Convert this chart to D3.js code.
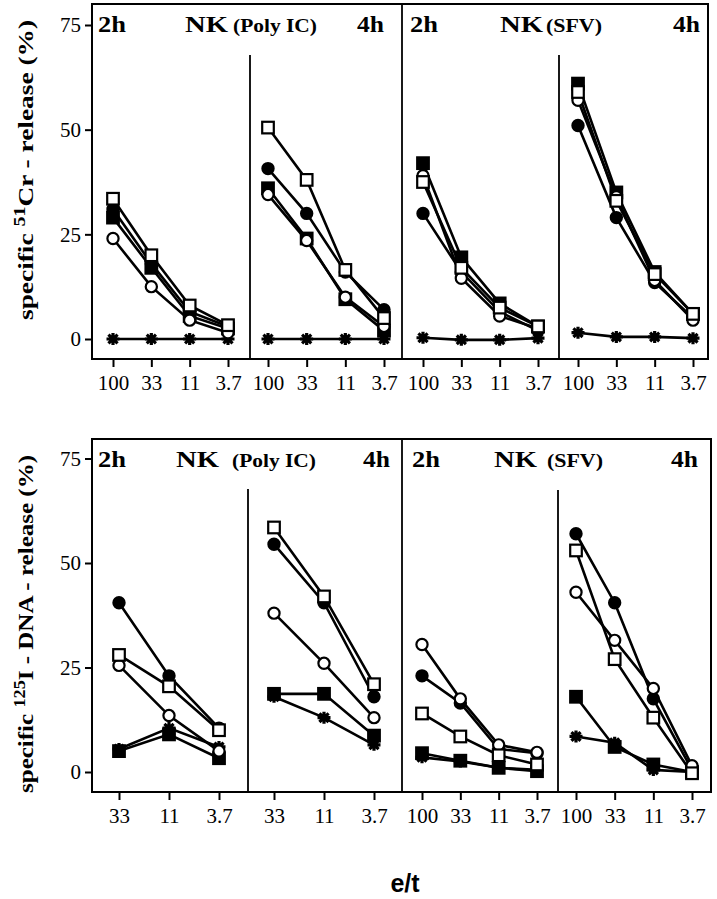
<!DOCTYPE html>
<html><head><meta charset="utf-8">
<script src="https://cdn.jsdelivr.net/npm/d3@7"></script>
<style>body{margin:0;background:#fff}svg{display:block}</style>
</head><body>
<svg id="c" width="717" height="899"></svg>
<script>
// ---- data ----
const etFull = ["100","33","11","3.7"];
const etPolyDNA = ["33","11","3.7"];
const yTicks = [0,25,50,75];
const seriesKinds = ["filledCircle","openCircle","filledSquare","openSquare","star"];
// values per panel; rows follow seriesKinds
const crPoly2h = [[31,18,6.5,3],[24,12.5,4.5,1.5],[29,17,5.5,2.5],[33.5,20,8,3.3],[0,0,0,0]];
const crPoly4h = [[40.7,30,16,7],[34.5,23.5,10,3],[36,24,9.5,2],[50.5,38,16.5,5],[0,0,0,0]];
const crSfv2h  = [[30,16,6.5,2],[39,14.5,5.5,2.5],[42,19.5,8.5,3],[37.5,17,7.5,3],[0.3,-0.2,-0.2,0.2]];
const crSfv4h  = [[51,29,13.5,5],[57,34,14,4.5],[61,35,16,6],[59,33,15.5,6],[1.5,0.5,0.5,0.2]];
const dnaPoly2h = [[40.5,23,10.5],[25.5,13.5,5],[5,9,3.3],[28,20.5,10],[5.5,10.5,6]];
const dnaPoly4h = [[54.5,40.5,18],[38,26,13],[18.7,18.7,8.7],[58.5,42,21],[18,13,6.5]];
const dnaSfv2h  = [[23,16.5,5.5,4.5],[30.5,17.5,6.5,4.7],[4.5,2.7,1,0.2],[14,8.5,4,1.8],[3.5,2.5,1,0.5]];
const dnaSfv4h  = [[57,40.5,17.5,0.5],[43,31.5,20,1.5],[18,6,1.8,0],[53,27,13,-0.3],[8.5,7,0.5,0]];

// ---- layout ----
const serif = "'Liberation Serif','Times New Roman',serif";
const svg = d3.select("#c");

const charts = [
  { frameTop:4, axisY:359, y0:339, y75:25, right:708, titleBase:32,
    panels:[{cats:etFull,r:[113,228],v:crPoly2h},{cats:etFull,r:[268,384],v:crPoly4h},
            {cats:etFull,r:[423,538],v:crSfv2h},{cats:etFull,r:[578,693],v:crSfv4h}],
    dividers:[{x:250,y1:55},{x:402,y1:4},{x:559,y1:55}],
    titles:{h1:98,nk1:185,p1:233,h2:357,h3:410,nk2:500,p2:546,h4:673},
    ylab:{cx:25,cy:170,len:300,pre:"specific ",sup:"51",post:"Cr - release (%)"} },
  { frameTop:439, axisY:792, y0:772, y75:458.5, right:711, titleBase:467,
    panels:[{cats:etPolyDNA,r:[119,219],v:dnaPoly2h},{cats:etPolyDNA,r:[274,374],v:dnaPoly4h},
            {cats:etFull,r:[422,537],v:dnaSfv2h},{cats:etFull,r:[576,692],v:dnaSfv4h}],
    dividers:[{x:248,y1:489},{x:402,y1:439},{x:558,y1:490}],
    titles:{h1:98,nk1:176,p1:232,h2:363,h3:412,nk2:494,p2:547,h4:671},
    ylab:{cx:25,cy:624,len:338,pre:"specific ",sup:"125",post:"I - DNA - release (%)"} }
];

const starPath = "M-6.5,0L6.5,0M0,-6L0,6M-4.6,-4.3L4.6,4.3M-4.6,4.3L4.6,-4.3";

charts.forEach(ch => {
  const g = svg.append("g");
  const left = 92;
  const y = d3.scaleLinear().domain([0,75]).range([ch.y0, ch.y75]);

  // frame
  g.append("rect").attr("x",left).attr("y",ch.frameTop)
    .attr("width",ch.right-left).attr("height",ch.axisY-ch.frameTop)
    .attr("fill","none").attr("stroke","#000").attr("stroke-width",2);

  // dividers
  ch.dividers.forEach(d => {
    g.append("line").attr("x1",d.x).attr("x2",d.x).attr("y1",d.y1).attr("y2",ch.axisY)
      .attr("stroke","#000").attr("stroke-width",1.8);
  });

  // y axis
  const ya = g.append("g").attr("transform",`translate(${left},0)`)
    .call(d3.axisLeft(y).tickValues(yTicks).tickSize(7).tickPadding(4));
  ya.select(".domain").remove();
  ya.selectAll("line").attr("stroke-width",2);
  ya.selectAll("text").attr("font-family",serif).attr("font-size",21).attr("fill","#000");

  // panels
  ch.panels.forEach(p => {
    const x = d3.scalePoint().domain(p.cats).range(p.r);
    const xa = g.append("g").attr("transform",`translate(0,${ch.axisY})`)
      .call(d3.axisBottom(x).tickSize(8).tickPadding(8));
    xa.select(".domain").remove();
    xa.selectAll("line").attr("stroke-width",2);
    xa.selectAll("text").attr("font-family",serif).attr("font-size",21).attr("fill","#000");

    const line = d3.line().x((d,i)=>x(p.cats[i])).y(d=>y(d));
    p.v.forEach((vals,si) => {
      g.append("path").attr("d",line(vals)).attr("fill","none")
        .attr("stroke","#000").attr("stroke-width",2.6);
    });
    const order = [4,2,0,1,3];
    order.forEach(si => {
      const kind = seriesKinds[si];
      p.v[si].forEach((val,i) => {
        const cx = x(p.cats[i]), cy = y(val);
        if (kind === "filledCircle" || kind === "openCircle") {
          g.append("circle").attr("cx",cx).attr("cy",cy).attr("r",5.6)
            .attr("fill", kind==="filledCircle" ? "#000" : "#fff")
            .attr("stroke","#000").attr("stroke-width",2.2);
        } else if (kind === "filledSquare" || kind === "openSquare") {
          g.append("rect").attr("x",cx-5.8).attr("y",cy-5.8).attr("width",11.6).attr("height",11.6)
            .attr("fill", kind==="filledSquare" ? "#000" : "#fff")
            .attr("stroke","#000").attr("stroke-width",2.2);
        } else {
          g.append("path").attr("d",starPath).attr("transform",`translate(${cx},${cy})`)
            .attr("stroke","#000").attr("stroke-width",3.2).attr("fill","none");
        }
      });
    });
  });

  // titles
  const t = ch.titles, tb = ch.titleBase;
  const bold = (txt,xx,fs,len) => {
    const e = g.append("text").attr("x",xx).attr("y",tb).text(txt)
      .attr("font-family",serif).attr("font-weight","bold").attr("font-size",fs).attr("fill","#000");
    if (len) e.attr("textLength",len).attr("lengthAdjust","spacingAndGlyphs");
    return e;
  };
  bold("2h",t.h1,23,28); bold("NK",t.nk1,23,43); bold("(Poly IC)",t.p1,18,84); bold("4h",t.h2,23,27);
  bold("2h",t.h3,23,28); bold("NK",t.nk2,23,43); bold("(SFV)",t.p2,18,56); bold("4h",t.h4,23,27);

  // y label
  const L = ch.ylab;
  const yl = g.append("text").attr("transform",`translate(${L.cx+8},${L.cy}) rotate(-90)`)
    .attr("text-anchor","middle").attr("font-family",serif).attr("font-weight","bold")
    .attr("font-size",22).attr("fill","#000");
  yl.append("tspan").text(L.pre);
  yl.append("tspan").text(L.sup).attr("font-size",16).attr("dy",-8);
  yl.append("tspan").text(L.post).attr("dy",8);
  yl.attr("textLength",L.len).attr("lengthAdjust","spacingAndGlyphs");
});

// x title
svg.append("text").attr("x",405).attr("y",892).attr("text-anchor","middle")
  .attr("font-family","'Liberation Sans',Arial,sans-serif").attr("font-weight","bold")
  .attr("font-size",25).attr("fill","#000").text("e/t");
</script>
</body></html>
